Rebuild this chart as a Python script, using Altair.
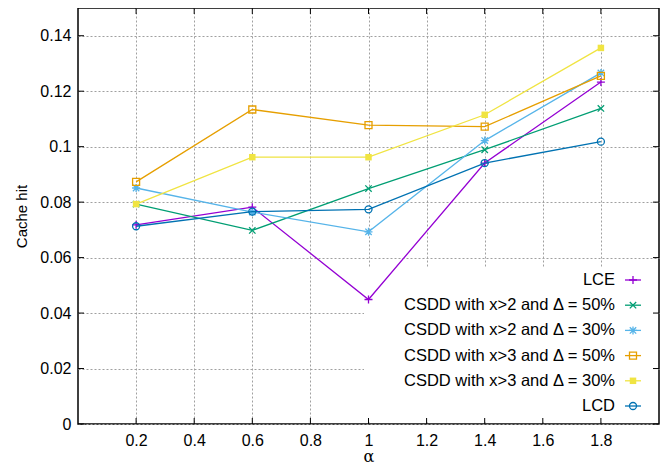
import altair as alt
import pandas as pd

alpha = [0.2, 0.6, 1.0, 1.4, 1.8]
series_names = [
    "LCE",
    "CSDD with x>2 and Δ = 50%",
    "CSDD with x>2 and Δ = 30%",
    "CSDD with x>3 and Δ = 50%",
    "CSDD with x>3 and Δ = 30%",
    "LCD",
]
lce = [0.0718, 0.0782, 0.0449, 0.0941, 0.1233]
csdd2_50 = [0.0793, 0.0698, 0.0849, 0.0989, 0.1138]
csdd2_30 = [0.0851, 0.0764, 0.0693, 0.1022, 0.1266]
csdd3_50 = [0.0873, 0.1134, 0.1078, 0.1072, 0.1255]
csdd3_30 = [0.0793, 0.0962, 0.0962, 0.1115, 0.1356]
lcd = [0.0713, 0.0766, 0.0774, 0.0941, 0.1018]
series_values = [lce, csdd2_50, csdd2_30, csdd3_50, csdd3_30, lcd]
colors = ["#9400d3", "#009e73", "#56b4e9", "#e69f00", "#f0e442", "#0072b2"]

x_ticks = [0.2, 0.4, 0.6, 0.8, 1.0, 1.2, 1.4, 1.6, 1.8]
y_ticks = [0, 0.02, 0.04, 0.06, 0.08, 0.1, 0.12, 0.14]

PLUS = "M-1,0L1,0M0,-1L0,1"
CROSS = "M-0.8,-0.8L0.8,0.8M-0.8,0.8L0.8,-0.8"
STAR = PLUS + CROSS
markers = [
    dict(shape=PLUS, filled=False, size=64),
    dict(shape=CROSS, filled=False, size=64),
    dict(shape=STAR, filled=False, size=64),
    dict(shape="square", filled=False, size=49),
    dict(shape="square", filled=True, size=42),
    dict(shape="circle", filled=False, size=49),
]

W, H = 581, 416
FONT = "Liberation Sans"

x_axis = alt.Axis(values=x_ticks, format="~g", title="α", grid=True,
                  titleY=37, titleBaseline="alphabetic", titleFontSize=16,
                  titleFont="DejaVu Serif", titleFontWeight="normal", labelPadding=8)
y_axis = alt.Axis(values=y_ticks, format="~g", title="Cache hit", grid=True,
                  titleX=-57, titleY=H / 2, titleAngle=-90, titleBaseline="middle",
                  titleAlign="center", titleFontSize=15, titleFontWeight="normal",
                  labelPadding=7)
x_scale = alt.Scale(domain=[0, 2], nice=False, zero=False)
y_scale = alt.Scale(domain=[0, 0.15], nice=False)

def X(field):
    return alt.X(f"{field}:Q", scale=x_scale, axis=x_axis)

def Y(field):
    return alt.Y(f"{field}:Q", scale=y_scale, axis=y_axis)

one = pd.DataFrame({"k": [0]})
layers = []

# opaque key background
layers.append(
    alt.Chart(one).mark_rect(color="white").encode(
        x=alt.value(286), x2=alt.value(579), y=alt.value(259), y2=alt.value(414)
    )
)

# inward ticks
xt = pd.DataFrame({"alpha": x_ticks})
yt = pd.DataFrame({"hit": y_ticks})
tick_style = dict(color="black", strokeWidth=1)
layers.append(alt.Chart(xt).mark_rule(**tick_style).encode(x=X("alpha"), y=alt.value(H), y2=alt.value(H - 6)))
layers.append(alt.Chart(xt).mark_rule(**tick_style).encode(x=X("alpha"), y=alt.value(0), y2=alt.value(6)))
layers.append(alt.Chart(yt).mark_rule(**tick_style).encode(y=Y("hit"), x=alt.value(0), x2=alt.value(6)))
layers.append(alt.Chart(yt).mark_rule(**tick_style).encode(y=Y("hit"), x=alt.value(W), x2=alt.value(W - 6)))

# data series
for name, vals, col, mk in zip(series_names, series_values, colors, markers):
    df = pd.DataFrame({"alpha": alpha, "hit": vals})
    base = alt.Chart(df)
    layers.append(base.mark_line(color=col, strokeWidth=1.3).encode(x=X("alpha"), y=Y("hit")))
    layers.append(
        base.mark_point(color=col, shape=mk["shape"], filled=mk["filled"], size=mk["size"],
                        strokeWidth=1.3, opacity=1).encode(x=X("alpha"), y=Y("hit"))
    )

# key (labels left of samples, as in gnuplot)
for i, (name, col, mk) in enumerate(zip(series_names, colors, markers)):
    yy = 272 + 25.2 * i
    layers.append(
        alt.Chart(one).mark_text(align="right", baseline="middle", font=FONT, fontSize=16.5,
                                 color="black").encode(
            x=alt.value(537), y=alt.value(yy), text=alt.value(name))
    )
    layers.append(
        alt.Chart(one).mark_rule(color=col, strokeWidth=1.3).encode(
            x=alt.value(547), x2=alt.value(563), y=alt.value(yy))
    )
    layers.append(
        alt.Chart(one).mark_point(color=col, shape=mk["shape"], filled=mk["filled"],
                                  size=mk["size"], strokeWidth=1.3, opacity=1).encode(
            x=alt.value(555), y=alt.value(yy))
    )

chart = alt.layer(*layers).properties(
    width=W, height=H,
    autosize=alt.AutoSizeParams(type="none"),
    padding={"left": 70, "top": 0, "right": 4, "bottom": 50},
).configure_axis(
    labelFont=FONT, labelFontSize=16, labelColor="black",
    titleFont=FONT, titleColor="black",
    ticks=False, domain=False,
    gridColor="#a0a0a0", gridDash=[2, 2], gridWidth=1, gridOpacity=1,
).configure_view(stroke="black", strokeWidth=1.5)

chart.save("out.html", embed_options={"renderer": "svg", "actions": False})
